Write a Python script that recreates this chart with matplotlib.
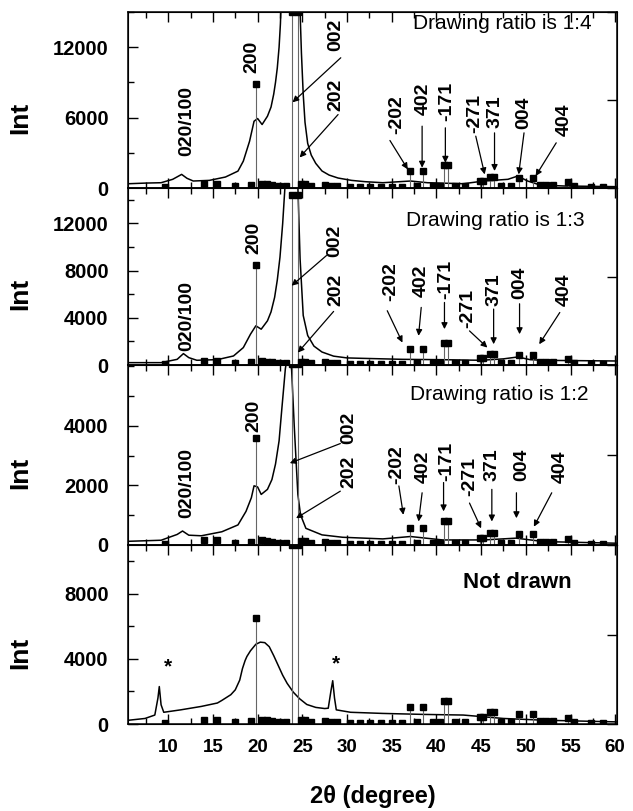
import matplotlib
matplotlib.use("Agg")
import matplotlib.pyplot as plt
from matplotlib.ticker import MultipleLocator, FixedLocator

plt.rcParams["font.family"] = ["Liberation Sans", "DejaVu Sans"]
plt.rcParams["font.weight"] = "bold"
plt.rcParams["axes.labelweight"] = "bold"

X_MIN, X_MAX = 5.5, 60.2

# XRD patterns (2theta in degree, intensity)
tt_14 = [5.6, 7.5, 9.2, 10.5, 11.0, 11.5, 12.1, 12.8, 14.6, 16.4, 17.8, 18.4, 19.1, 19.6,
         20.0, 20.5, 21.1, 21.5, 21.8, 22.0, 22.2, 22.4, 22.55, 23.7, 24.75, 24.9, 25.1, 25.3,
         25.6, 26.0, 26.5, 27.2, 28.0, 29.0, 30.5, 32.0, 34.0, 37.1, 39.0, 43.0, 45.3, 48.0,
         49.1, 50.2, 51.6, 54.3, 60.1]
int_14 = [365, 420, 450, 740, 950, 1160, 825, 595, 650, 935, 1440, 2290, 3990, 5690,
          5920, 5410, 6120, 6900, 8000, 9000, 10230, 12000, 14000, 40000, 15000, 11500, 8000, 5600,
          3800, 2800, 2100, 1450, 1100, 850, 650, 540, 450, 595, 450, 365, 595, 740,
          1020, 595, 255, 170, 115]

tt_13 = [5.6, 9.2, 11.0, 11.7, 12.3, 13.2, 15.5, 17.3, 18.4, 19.2, 19.8, 20.4, 21.1, 21.5,
         21.9, 22.2, 22.5, 22.8, 23.05, 23.8, 24.5, 24.75, 25.1, 25.6, 26.3, 27.2, 28.5, 30.0,
         31.7, 36.2, 40.7, 45.0, 47.5, 49.1, 50.5, 52.0, 60.1]
int_13 = [200, 200, 480, 965, 625, 400, 455, 765, 1475, 2610, 3320, 3035, 3745, 4500,
          5730, 7200, 9135, 11970, 15000, 40000, 15200, 9000, 4200, 2500, 1600, 1100, 750, 600,
          565, 480, 450, 400, 520, 680, 450, 395, 340]

tt_12 = [5.6, 9.2, 11.0, 11.6, 12.3, 13.7, 16.0, 17.8, 18.7, 19.3, 19.6, 20.0, 20.4, 21.1,
         21.6, 22.0, 22.4, 22.7, 22.95, 23.1, 23.45, 23.8, 24.1, 24.5, 24.8, 25.4, 27.2, 29.5,
         34.0, 37.1, 40.7, 45.3, 48.9, 52.0, 60.1]
int_12 = [125, 160, 355, 470, 330, 310, 445, 675, 1130, 1590, 1990, 1950, 1700, 1870,
          2200, 2720, 3500, 4550, 5400, 5920, 6600, 5900, 3980, 1700, 1015, 560, 340, 260,
          205, 285, 170, 170, 230, 115, 60]

tt_0 = [5.6, 7.4, 8.5, 8.85, 9.0, 9.2, 9.5, 11.4, 13.7, 15.5, 16.0, 17.0, 17.5, 18.0,
        18.3, 18.6, 18.8, 19.2, 19.8, 20.3, 20.8, 21.3, 21.8, 22.3, 22.8, 23.3, 24.0, 24.7,
        25.5, 26.5, 27.5, 27.9, 28.2, 28.4, 28.6, 28.8, 30.4, 34.0, 38.5, 43.0, 47.5, 52.0,
        60.1]
int_0 = [233, 340, 550, 1600, 2300, 1180, 720, 870, 1080, 1290, 1450, 1800, 2100, 2700,
         3400, 3900, 4150, 4500, 4900, 5030, 5000, 4750, 4200, 3600, 3000, 2500, 1950, 1550,
         1200, 1020, 950, 970, 2025, 2660, 1600, 870, 720, 650, 590, 550, 340, 233,
         130]

# reference stick pattern (position, relative intensity in %)
ref_pos = [19.85, 23.8, 24.5, 37.0, 38.45, 40.9, 41.35, 45.2, 45.95, 46.45, 49.2, 50.75,
           9.6, 14.0, 15.4, 17.5, 19.3, 20.5, 21.0, 21.6, 22.4, 23.2, 24.9, 25.3, 26.0,
           27.5, 28.2, 28.9, 30.3, 31.5, 32.6, 33.8, 35.0, 36.2, 37.8, 39.6, 40.4, 42.1,
           43.2, 44.9, 47.2, 48.3, 51.6, 52.3, 53.0, 54.7, 55.4, 57.3, 58.6]
ref_rel = [59, 100, 100, 9.5, 9.5, 13, 13, 4, 6.5, 6.5, 5.8, 5.8,
           0.5, 2.5, 2.5, 1, 1.5, 2.5, 2, 1.5, 1, 1, 2, 2, 1,
           1.5, 1, 1, 0.8, 0.8, 0.8, 0.8, 0.8, 0.8, 1, 1, 1, 1,
           1, 4, 1, 1, 1.5, 1.5, 1.5, 3.5, 1, 0.8, 0.8]

titles = ["Drawing ratio is 1:4", "Drawing ratio is 1:3", "Drawing ratio is 1:2", "Not drawn"]
y_top = [15000, 15000, 6050, 11000]
y_ticks = [[0, 6000, 12000], [0, 4000, 8000, 12000], [0, 2000, 4000], [0, 4000, 8000]]
ref_scale = [15000, 14400, 6100, 11000]

# hkl annotations: (label, text x, text bottom y, arrow tail, arrow head)
ann_14 = [("020/100", 12.1, 2700, None, None), ("200", 19.4, 9800, None, None),
          ("002", 28.7, 11650, (29.3, 11100), (23.9, 7300)),
          ("202", 28.7, 6550, (29.0, 6260), (24.7, 2600)),
          ("-202", 35.6, 4560, (34.8, 4050), (36.8, 1590)),
          ("402", 38.5, 6260, (38.4, 5270), (38.4, 1730)),
          ("-171", 41.1, 5700, (41.0, 5130), (41.0, 2150)),
          ("-271", 44.3, 4700, (44.4, 4420), (45.4, 1160)),
          ("371", 46.6, 5120, (46.5, 4700), (46.5, 1450)),
          ("004", 49.8, 4990, (49.8, 4700), (49.2, 1160)),
          ("404", 54.3, 4420, (53.4, 3850), (51.1, 1020))]
ann_13 = [("020/100", 12.1, 1190, None, None), ("200", 19.6, 9420, None, None),
          ("002", 28.6, 9130, (27.7, 9275), (23.8, 6720)),
          ("202", 28.8, 5020, (28.5, 4540), (24.5, 1050)),
          ("-202", 34.9, 5450, (34.5, 4600), (36.2, 1900)),
          ("402", 38.3, 5730, (38.3, 4880), (38.0, 2470)),
          ("-171", 41.0, 5590, (40.9, 5300), (40.9, 3040)),
          ("-271", 43.5, 3175, (43.7, 2890), (45.7, 1475)),
          ("371", 46.4, 5020, (46.4, 4740), (46.4, 1760)),
          ("004", 49.3, 5590, (49.3, 5190), (49.3, 2610)),
          ("404", 54.3, 5020, (53.8, 4450), (51.5, 1760))]
ann_12 = [("020/100", 12.1, 900, None, None), ("200", 19.6, 3800, None, None),
          ("002", 30.2, 3410, (29.25, 3410), (23.6, 2750)),
          ("202", 30.2, 1925, (29.25, 1810), (24.3, 900)),
          ("-202", 35.6, 2040, (35.8, 1985), (36.3, 1015)),
          ("402", 38.5, 2100, (38.4, 1755), (38.0, 790)),
          ("-171", 41.1, 2155, (40.8, 2100), (40.8, 1130)),
          ("-271", 43.7, 1640, (43.7, 1410), (45.0, 560)),
          ("371", 46.2, 2155, (46.2, 1870), (46.2, 790)),
          ("004", 49.5, 2155, (48.95, 1755), (48.95, 900)),
          ("404", 53.8, 2100, (52.9, 1755), (50.9, 615))]
stars = [(10.0, 3500), (28.8, 3700)]

patterns = [(tt_14, int_14), (tt_13, int_13), (tt_12, int_12), (tt_0, int_0)]
annotations = [ann_14, ann_13, ann_12, []]
title_pos = [(57.4, 14000), (56.6, 12250), (57.0, 5060), (49.1, 8670)]

fig = plt.figure(figsize=(6.33, 8.11), dpi=100)
W, H = 633.0, 811.0
left, right = 128 / W, 617 / W
edges = [12, 188, 365, 545, 724]

for k in range(4):
    ax = fig.add_axes([left, 1 - edges[k + 1] / H, right - left, (edges[k + 1] - edges[k]) / H])
    tt, inten = patterns[k]
    ax.plot(tt, inten, color="k", lw=1.1)

    heights = [r / 100 * ref_scale[k] for r in ref_rel]
    ax.vlines(ref_pos, 0, heights, color="0.4", lw=0.8)
    ax.plot(ref_pos, heights, "s", color="k", ms=4.5, lw=0)

    for lab, tx, ty, tail, head in annotations[k]:
        ax.text(tx, ty, lab, rotation=90, ha="center", va="bottom", fontsize=14)
        if tail is not None:
            ax.annotate("", xy=head, xytext=tail,
                        arrowprops=dict(arrowstyle="-|>", color="k", lw=0.9,
                                        shrinkA=0, shrinkB=0, mutation_scale=9))

    if k < 3:
        ax.text(title_pos[k][0], title_pos[k][1], titles[k], ha="right", va="center",
                fontsize=15, fontweight="normal")
    else:
        ax.text(title_pos[k][0], title_pos[k][1], titles[k], ha="center", va="center",
                fontsize=16)
        for sx, sy in stars:
            ax.text(sx, sy, "*", ha="center", va="center", fontsize=15)

    ax.set_xlim(X_MIN, X_MAX)
    ax.set_ylim(0, y_top[k])
    ax.xaxis.set_major_locator(MultipleLocator(5))
    ax.xaxis.set_minor_locator(MultipleLocator(2.5))
    ax.yaxis.set_major_locator(FixedLocator(y_ticks[k]))
    ax.yaxis.set_minor_locator(MultipleLocator(y_ticks[k][1] / 2))
    ax.tick_params(which="both", direction="in", top=True, right=False, width=1)
    ax.tick_params(which="major", length=7)
    ax.tick_params(which="minor", length=4)
    ax.tick_params(axis="y", labelsize=14.5, pad=14)
    ax.tick_params(axis="x", labelsize=13.5, pad=11, labelbottom=(k == 3))
    for sp in ax.spines.values():
        sp.set_linewidth(1.1)
    ax.set_ylabel("Int", fontsize=19, fontweight="bold")
    ax.yaxis.set_label_coords(-0.195, 0.4)

    tw = ax.twinx()
    tw.set_ylim(0, 1)
    tw.set_yticks([0, 0.5, 1])
    tw.tick_params(direction="in", length=7, width=1, labelright=False)

    if k == 3:
        ax.set_xlabel("2\u03b8 (degree)", fontsize=17, fontweight="bold")
        ax.xaxis.set_label_coords(0.5, -0.34)

fig.savefig("out.png", dpi=100)
